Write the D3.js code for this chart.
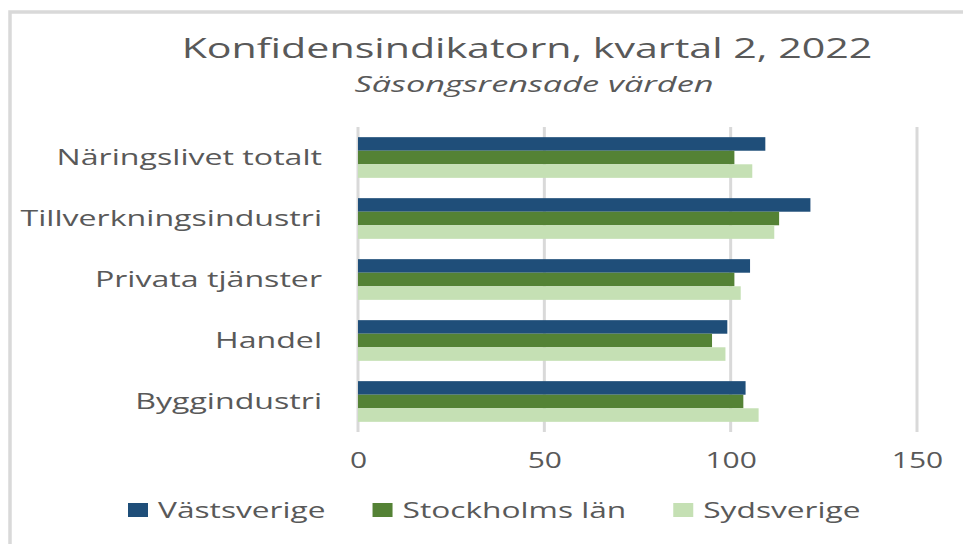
<!DOCTYPE html>
<html>
<head>
<meta charset="utf-8">
<script src="https://cdn.jsdelivr.net/npm/d3@7"></script>
<style>
  body { margin: 0; background: #fff; }
  svg text { font-family: "Open Sans", sans-serif; fill: #595959; }
</style>
</head>
<body>
<svg id="chart" width="963" height="544"></svg>
<script>
const categories = ["Näringslivet totalt", "Tillverkningsindustri", "Privata tjänster", "Handel", "Byggindustri"];
const seriesNames = ["Västsverige", "Stockholms län", "Sydsverige"];
const vastsverige = [109.3, 121.4, 105.2, 99.1, 104.0];
const stockholm = [101.0, 113.0, 101.0, 95.0, 103.4];
const sydsverige = [105.8, 111.7, 102.7, 98.6, 107.5];
const xTicks = [0, 50, 100, 150];
const colors = ["#1f4e79", "#548235", "#c5e0b4"];

const series = [vastsverige, stockholm, sydsverige];
const rows = categories.map((c, i) => ({ cat: c, vals: series.map(s => s[i]) }));

const svg = d3.select("#chart");

// originalet är utdraget på bredden, så texten sträcks lika mycket
function stretch(sel, f) {
  sel.each(function() {
    const w = this.getComputedTextLength();
    d3.select(this)
      .attr("textLength", w * f)
      .attr("lengthAdjust", "spacingAndGlyphs");
  });
}

// ram
svg.append("path")
  .attr("d", "M10,544 V12 H963")
  .attr("fill", "none")
  .attr("stroke", "#d9d9d9")
  .attr("stroke-width", 3.5);

const x = d3.scaleLinear().domain([0, 150]).range([358, 917]);
const y = d3.scaleBand().domain(categories).range([127, 432])
  .paddingInner(0.333).paddingOuter(0.1667);
const ySub = d3.scaleBand().domain(d3.range(3)).range([0, y.bandwidth()]);

// titel
svg.append("text")
  .attr("x", 527).attr("y", 58)
  .attr("text-anchor", "middle")
  .style("font-size", "28px")
  .text("Konfidensindikatorn, kvartal 2, 2022")
  .call(stretch, 1.47);

svg.append("text")
  .attr("x", 534).attr("y", 92)
  .attr("text-anchor", "middle")
  .style("font-size", "22px")
  .style("font-style", "italic")
  .text("Säsongsrensade värden")
  .call(stretch, 1.56);

// rutnät
svg.append("g")
  .selectAll("line")
  .data(xTicks)
  .enter().append("line")
  .attr("x1", d => x(d)).attr("x2", d => x(d))
  .attr("y1", 127).attr("y2", 432)
  .attr("stroke", "#d9d9d9")
  .attr("stroke-width", 3);

// staplar
const groups = svg.append("g")
  .selectAll("g")
  .data(rows)
  .enter().append("g")
  .attr("transform", d => `translate(0,${y(d.cat)})`);

groups.selectAll("rect")
  .data(d => d.vals)
  .enter().append("rect")
  .attr("x", x(0))
  .attr("y", (d, i) => ySub(i))
  .attr("width", d => x(d) - x(0))
  .attr("height", ySub.bandwidth())
  .attr("fill", (d, i) => colors[i]);

// kategorietiketter
const yAxis = svg.append("g")
  .attr("transform", `translate(${x(0)},0)`)
  .call(d3.axisLeft(y).tickSize(0).tickPadding(36));
yAxis.select(".domain").remove();
yAxis.selectAll("text")
  .style("font-size", "22px")
  .style("font-family", "'Open Sans', sans-serif")
  .attr("fill", "#595959")
  .call(stretch, 1.46);

// x-axel
const xAxis = svg.append("g")
  .attr("transform", "translate(0,432)")
  .call(d3.axisBottom(x).tickValues(xTicks).tickSize(0).tickPadding(20));
xAxis.select(".domain").remove();
xAxis.selectAll("text")
  .style("font-size", "22px")
  .style("font-family", "'Open Sans', sans-serif")
  .attr("fill", "#595959")
  .call(stretch, 1.36);

// legend
const legend = svg.append("g").attr("transform", "translate(0,510)");
let lx = 128;
seriesNames.forEach((name, i) => {
  const item = legend.append("g").attr("transform", `translate(${lx},0)`);
  item.append("rect")
    .attr("x", 0).attr("y", -7)
    .attr("width", 20).attr("height", 14)
    .attr("fill", colors[i]);
  const t = item.append("text")
    .attr("x", 30).attr("y", 0)
    .attr("dy", "0.35em")
    .style("font-size", "22px")
    .text(name)
    .call(stretch, 1.44);
  lx += 30 + +t.attr("textLength") + 47;
});
</script>
</body>
</html>
